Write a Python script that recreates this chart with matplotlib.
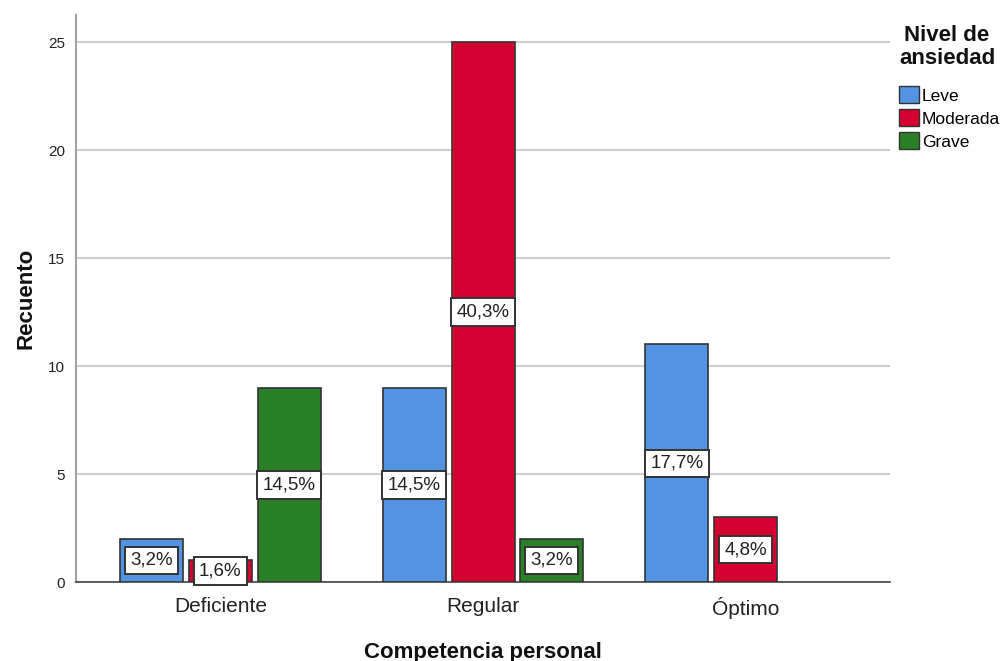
import matplotlib
matplotlib.use("Agg")
import matplotlib.pyplot as plt
import numpy as np
from matplotlib.patches import Patch

plt.rcParams['font.family'] = ['Liberation Sans', 'DejaVu Sans']

categories = ["Deficiente", "Regular", "Óptimo"]
series_names = ["Leve", "Moderada", "Grave"]
counts = {
    "Leve": [2, 9, 11],
    "Moderada": [1, 25, 3],
    "Grave": [9, 2, 0],
}
percent_labels = {
    "Leve": ["3,2%", "14,5%", "17,7%"],
    "Moderada": ["1,6%", "40,3%", "4,8%"],
    "Grave": ["14,5%", "3,2%", None],
}
colors = {"Leve": "#5294e2", "Moderada": "#d5002f", "Grave": "#2b8027"}

W, H = 1004, 661
fig = plt.figure(figsize=(W / 100, H / 100), dpi=100)
ax = fig.add_axes([0.0757, 0.1195, 0.8108, 0.8575])

x = np.arange(len(categories))
width = 0.24
step = 0.262

for i, name in enumerate(series_names):
    offs = x + (i - 1) * step
    vals = counts[name]
    for xi, v, lab in zip(offs, vals, percent_labels[name]):
        if v <= 0:
            continue
        ax.bar(xi, v, width=width, color=colors[name], edgecolor="#333333",
               linewidth=1.2, zorder=3)
        if lab:
            ax.text(xi, v / 2, lab, ha="center", va="center", fontsize=13.5,
                    color="#222222", zorder=4,
                    bbox=dict(boxstyle="square,pad=0.28", facecolor="white",
                              edgecolor="#333333", linewidth=1.4))

ax.set_xlim(-0.55, 2.55)
ax.set_ylim(0, 26.25)
ax.set_yticks([0, 5, 10, 15, 20, 25])
ax.set_xticks(x)
ax.set_xticklabels(categories, fontsize=15, color="#222222")
ax.tick_params(axis="y", labelsize=11, colors="#222222", length=0, pad=8)
ax.tick_params(axis="x", length=0, pad=11)
ax.yaxis.grid(True, color="#cfcfcf", linewidth=1.5, zorder=0)
ax.set_axisbelow(True)

for s in ["top", "right"]:
    ax.spines[s].set_visible(False)
ax.spines["left"].set_color("#a0a0a0")
ax.spines["left"].set_linewidth(1.5)
ax.spines["bottom"].set_color("#444444")
ax.spines["bottom"].set_linewidth(1.2)

ax.set_xlabel("Competencia personal", fontsize=16, fontweight="bold",
              color="#111111", labelpad=16)
ax.set_ylabel("Recuento", fontsize=16, fontweight="bold", color="#111111",
              labelpad=8)

# legend title drawn separately so the gap above the entries can be set
fig.text(947 / W, 1 - 47 / H, "Nivel de\nansiedad", ha="center", va="center",
         fontsize=16, fontweight="bold", color="#111111", linespacing=1.1)

handles = [Patch(facecolor=colors[n], edgecolor="#333333", linewidth=1.0)
           for n in series_names]
leg = fig.legend(handles, series_names, loc="upper left",
                 bbox_to_anchor=(0.883, 1 - 74 / H), frameon=False,
                 fontsize=12.5,
                 handlelength=1.15, handleheight=1.15, handletextpad=0.2,
                 labelspacing=0.32, borderpad=0.2)

fig.savefig("out.png", dpi=100)
